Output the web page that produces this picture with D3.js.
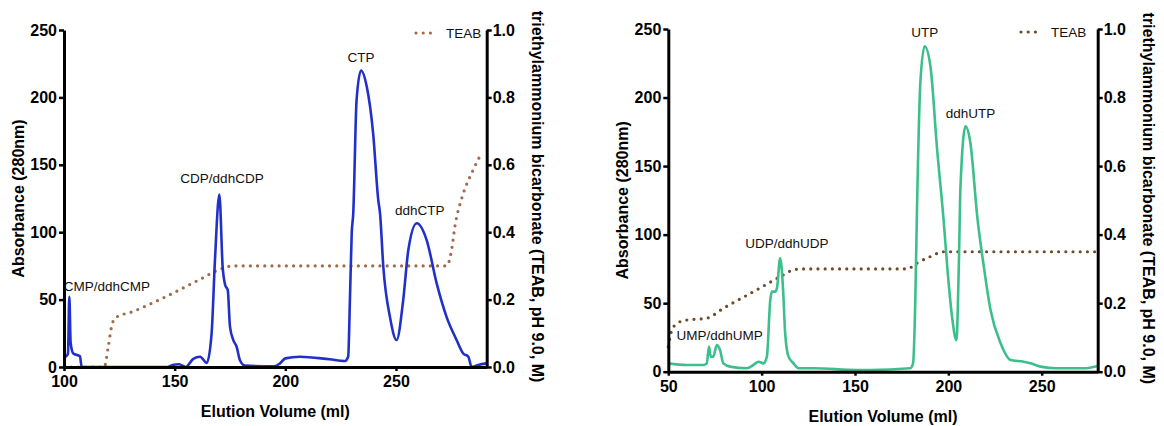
<!DOCTYPE html>
<html>
<head>
<meta charset="utf-8">
<script src="https://cdn.jsdelivr.net/npm/d3@7"></script>
<style>
  body { margin: 0; background: #fff; }
  svg { display: block; font-family: "Liberation Sans", Arial, sans-serif; }
</style>
</head>
<body>
<div id="chart"></div>
<script>
// ---- data ----
// left: CTP / ddhCTP run
const ctpVolume = [100, 101, 101.8, 102.4, 103, 104.2, 107.2, 108, 115, 147, 149, 152, 155, 158.4, 161.5, 164.5,
  166.7, 168.2, 170.2, 171.7, 172.8, 174, 175, 176.5, 178, 179.5, 181.8, 195, 197.6, 200, 206.6, 220, 227,
  228.4, 229.2, 230, 230.7, 232.2, 234.2, 236.8, 239.7, 242, 242.8, 244.3, 247.3, 250.3, 253.3, 255.6,
  259.4, 263.9, 268.4, 272.9, 277.4, 280.4, 282.7, 284.2, 287.2, 291];
const ctpAbs = [7.6, 8, 10, 52, 18, 10, 8, 0, 0, 0, 1.5, 2, 0, 6, 7.6, 3,
  25, 79, 128, 74, 61, 57, 30, 20, 15, 5, 1, 0.5, 2.7, 6.4, 7.6, 5.7, 4.5,
  7.6, 50, 99, 114, 198, 220, 208, 173, 124, 114, 74, 37, 20, 50, 87,
  106.6, 94, 62, 37, 20, 10, 7.6, 0, 1.5, 2.7];
const teabVolumeL = [100, 118.2, 120, 121.5, 123, 131.3, 146.4, 161.4, 170.5, 176.5, 272.9, 275.2, 276.7, 279.7, 284.9, 288.7];
const teabL = [0, 0, 0.06, 0.12, 0.145, 0.165, 0.21, 0.26, 0.29, 0.3, 0.3, 0.35, 0.42, 0.5, 0.585, 0.635];
const ctpLabels = ["CMP/ddhCMP", "CDP/ddhCDP", "CTP", "ddhCTP"];
const ctpLabelX = [119.4, 171.4, 234.2, 260.8];
const ctpLabelY = [56.4, 136.5, 226, 112.8];

// right: UTP / ddhUTP run
const utpVolume = [50, 59.9, 68.8, 70.6, 71.8, 72.7, 74.1, 76, 77.7, 79.5, 83.1, 92, 95.6, 98.3, 101, 102.8,
  104.6, 105.5, 107.2, 108.2, 109.9, 111.4, 112.6, 114.4, 117.1, 119.7, 128, 151, 158.2, 179.6, 181.1, 182.3,
  183.2, 185, 187.3, 190.4, 194, 197.5, 199.4, 202, 204.3, 205.6, 206.5, 209.2, 211.8, 215.5, 219, 222.6,
  228, 233.3, 240.4, 244, 249.4, 258.2, 272.6, 280];
const utpAbs = [6.1, 4.9, 4.9, 6.1, 18.3, 11, 11, 19.5, 15.8, 6.1, 3.7, 2.5, 4.9, 7.3, 6.1, 11,
  52, 58.4, 58.4, 61, 82.8, 62, 28, 11, 6.1, 2.5, 2.5, 1.2, 1.2, 2.5, 6, 52,
  118, 210.7, 237.4, 222.8, 162, 110, 76.7, 40, 23, 76.7, 135, 179, 167, 113, 76.7, 45,
  20.7, 8.5, 7.3, 6.1, 3.7, 2.5, 2.5, 4.2];
const teabVolumeR = [50, 51.8, 54.5, 59, 70.6, 79.5, 97.4, 109.9, 117, 121.6, 177.9, 183.2, 190.4, 197.5, 280];
const teabR = [0.073, 0.12, 0.14, 0.15, 0.156, 0.185, 0.239, 0.277, 0.297, 0.3, 0.3, 0.317, 0.336, 0.35, 0.35];
const utpLabels = ["UMP/ddhUMP", "UDP/ddhUDP", "UTP", "ddhUTP"];
const utpLabelX = [77.5, 113.5, 187.4, 211.9];
const utpLabelY = [23.2, 90.4, 244, 185.3];

const absTicks = [0, 50, 100, 150, 200, 250];
const teabTicks = [0, 0.2, 0.4, 0.6, 0.8, 1.0];

const svg = d3.select('#chart')
  .append('svg')
  .attr('width', 1164)
  .attr('height', 426);

function drawChart(cfg) {
  const x = d3.scaleLinear().domain(cfg.xDomain).range([cfg.left, cfg.right]);
  const y = d3.scaleLinear().domain([0, 250]).range([cfg.bottom, cfg.top]);
  const y2 = d3.scaleLinear().domain([0, 1]).range([cfg.bottom, cfg.top]);

  const g = svg.append('g');

  g.append('clipPath').attr('id', cfg.id + '-clip')
    .append('rect')
    .attr('x', cfg.left).attr('y', cfg.top - 5)
    .attr('width', cfg.right - cfg.left).attr('height', cfg.bottom - cfg.top + 5);

  // TEAB gradient (dotted)
  const teabPts = cfg.teabX.map((v, i) => [v, cfg.teabY[i]]);
  g.append('path')
    .datum(teabPts)
    .attr('fill', 'none')
    .attr('stroke', cfg.teabColor)
    .attr('stroke-width', 3.2)
    .attr('stroke-linecap', 'round')
    .attr('stroke-dasharray', '0,7.2')
    .attr('d', d3.line().x(d => x(d[0])).y(d => y2(d[1])).curve(d3.curveMonotoneX));

  // absorbance trace
  const absPts = cfg.absX.map((v, i) => [v, cfg.absY[i]]);
  g.append('path')
    .datum(absPts)
    .attr('clip-path', `url(#${cfg.id}-clip)`)
    .attr('fill', 'none')
    .attr('stroke', cfg.lineColor)
    .attr('stroke-width', 2.6)
    .attr('stroke-linejoin', 'round')
    .attr('d', d3.line().x(d => x(d[0])).y(d => y(d[1])).curve(d3.curveMonotoneX));

  // axes
  const xAxis = g.append('g')
    .attr('transform', `translate(0,${cfg.bottom})`)
    .call(d3.axisBottom(x).tickValues(cfg.xTicks).tickSize(4).tickPadding(5).tickSizeOuter(0));
  const yAxis = g.append('g')
    .attr('transform', `translate(${cfg.left},0)`)
    .call(d3.axisLeft(y).tickValues(absTicks).tickSize(5).tickPadding(2).tickSizeOuter(0));
  const y2Axis = g.append('g')
    .attr('transform', `translate(${cfg.right},0)`)
    .call(d3.axisRight(y2).tickValues(teabTicks).tickFormat(d3.format('.1f')).tickSize(5).tickPadding(1).tickSizeOuter(0));

  [xAxis, yAxis, y2Axis].forEach(a => {
    a.select('.domain').attr('stroke', '#000').attr('stroke-width', 3);
    a.selectAll('.tick line').attr('stroke', '#000').attr('stroke-width', 2.5);
    a.selectAll('.tick text')
      .attr('fill', '#000')
      .attr('font-size', '16px')
      .attr('font-weight', 'bold')
      .attr('font-family', '"Liberation Sans", Arial, sans-serif');
  });

  // peak labels
  g.selectAll('.peak')
    .data(cfg.labels)
    .join('text')
    .attr('x', (d, i) => x(cfg.labelX[i]))
    .attr('y', (d, i) => y(cfg.labelY[i]))
    .attr('text-anchor', 'middle')
    .attr('font-size', '13.5px')
    .attr('fill', '#111')
    .text(d => d);

  // legend
  g.append('line')
    .attr('x1', cfg.legendX).attr('x2', cfg.legendX + 16)
    .attr('y1', cfg.legendY).attr('y2', cfg.legendY)
    .attr('stroke', cfg.teabColor)
    .attr('stroke-width', 3.2)
    .attr('stroke-linecap', 'round')
    .attr('stroke-dasharray', '0,7.2');
  g.append('text')
    .attr('x', cfg.legendX + 30)
    .attr('y', cfg.legendY + 5)
    .attr('font-size', '13.5px')
    .attr('fill', '#111')
    .text('TEAB');

  // axis titles
  const midY = (cfg.top + cfg.bottom) / 2;
  g.append('text')
    .attr('transform', `translate(${cfg.left - 40},${midY}) rotate(-90)`)
    .attr('text-anchor', 'middle')
    .attr('font-size', '16px')
    .attr('font-weight', 'bold')
    .text('Absorbance (280nm)');
  g.append('text')
    .attr('transform', `translate(${cfg.right + 45},${midY - 2}) rotate(90)`)
    .attr('text-anchor', 'middle')
    .attr('font-size', '16px')
    .attr('font-weight', 'bold')
    .text('triethylammonium bicarbonate (TEAB, pH 9.0, M)');
  g.append('text')
    .attr('x', (cfg.left + cfg.right) / 2)
    .attr('y', cfg.bottom + 50)
    .attr('text-anchor', 'middle')
    .attr('font-size', '16px')
    .attr('font-weight', 'bold')
    .text('Elution Volume (ml)');
}

drawChart({
  id: 'ctp',
  left: 64, right: 486.7, top: 30, bottom: 367,
  xDomain: [100, 291], xTicks: [100, 150, 200, 250],
  absX: ctpVolume, absY: ctpAbs, teabX: teabVolumeL, teabY: teabL,
  labels: ctpLabels, labelX: ctpLabelX, labelY: ctpLabelY,
  lineColor: '#2130c9', teabColor: '#a3694a',
  legendX: 416, legendY: 33
});

drawChart({
  id: 'utp',
  left: 668.3, right: 1097.7, top: 29, bottom: 371.7,
  xDomain: [50, 280], xTicks: [50, 100, 150, 200, 250],
  absX: utpVolume, absY: utpAbs, teabX: teabVolumeR, teabY: teabR,
  labels: utpLabels, labelX: utpLabelX, labelY: utpLabelY,
  lineColor: '#3cbf8c', teabColor: '#6e4a26',
  legendX: 1021, legendY: 32
});
</script>
</body>
</html>
